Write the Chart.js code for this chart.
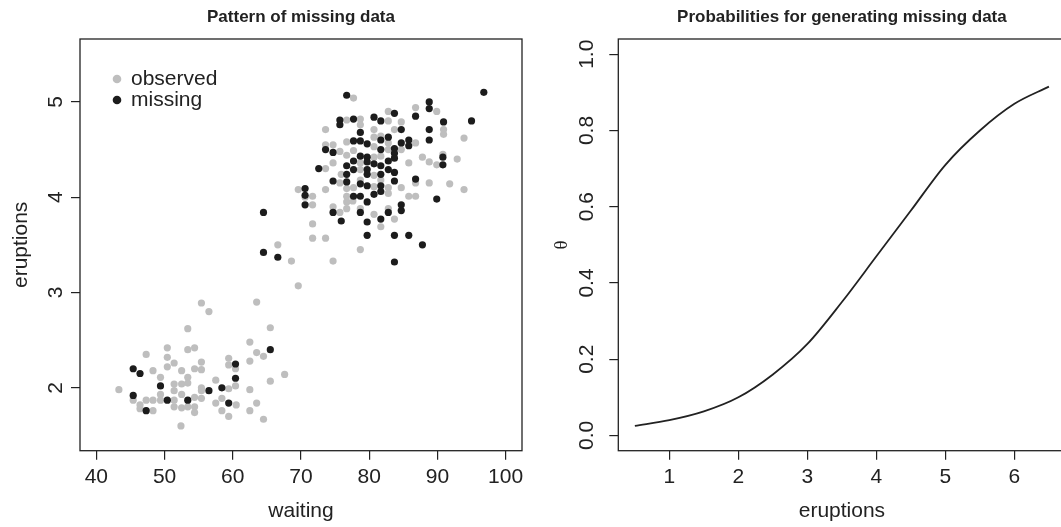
<!DOCTYPE html>
<html>
<head>
<meta charset="utf-8">
<script src="https://cdn.jsdelivr.net/npm/chart.js@4"></script>
<style>
  html, body { margin:0; padding:0; background:#fff; }
  body { width:1061px; height:527px; overflow:hidden; position:relative; }
  canvas { position:absolute; top:0; }
</style>
</head>
<body>
<canvas id="left" width="530" height="527" style="left:0px"></canvas>
<canvas id="right" width="545" height="527" style="left:530px"></canvas>
<script>
// ---------- Data ----------
const observedWaiting = [
  55.4,56.5,63.5,53.4,50.4,53.4,54.4,47.3,50.4,51.4,55.4,50.4,54.4,55.4,52.5,48.3,62.5,63.5,62.5,59.4,
  59.4,60.4,49.4,53.4,51.4,52.5,53.4,57.5,55.4,55.4,59.4,60.4,62.5,43.3,51.4,52.5,49.4,54.4,55.4,51.4,
  48.3,47.3,45.4,46.4,51.4,52.5,54.4,53.4,54.4,46.4,48.3,57.5,58.4,58.4,59.4,60.5,62.5,63.5,52.4,49.4,
  66.6,68.6,69.6,65.5,64.5,67.6,65.5,64.5,
  71.7,75.7,71.7,71.7,73.6,74.7,76.7,76.7,77.6,80.7,83.7,81.7,78.7,69.6,70.6,71.7,73.6,74.7,76.7,75.7,
  73.6,74.7,75.7,73.6,74.7,76.7,73.6,76.7,77.7,78.7,82.8,86.8,89.9,82.8,84.7,78.7,80.7,83.7,90.9,90.9,
  93.9,80.7,81.7,86.8,82.8,80.7,77.7,82.8,84.7,80.7,81.7,78.7,85.8,87.8,88.8,89.9,90.8,92.9,78.7,75.9,
  80.7,81.7,78.7,77.7,80.7,82.8,84.7,86.8,88.8,91.8,93.9,82.8,76.7,85.8,86.8,78.7,82.8,76.7
];
const observedEruptions = [
  2.89,2.80,2.90,2.62,2.42,2.40,2.42,2.35,2.32,2.26,2.27,2.22,2.20,2.19,2.18,2.18,2.48,2.37,2.28,2.31,
  2.24,2.20,2.11,2.11,2.04,2.04,2.05,2.08,2.00,1.97,1.99,2.02,1.98,1.98,1.97,1.93,1.93,1.90,1.89,1.87,
  1.87,1.87,1.87,1.82,1.80,1.79,1.80,1.80,1.74,1.78,1.76,1.84,1.89,1.76,1.70,1.82,1.76,1.84,1.60,1.87,
  3.50,3.33,3.07,2.63,2.33,2.14,2.07,1.67,
  3.92,3.84,3.72,3.57,3.57,3.33,3.95,3.88,3.96,3.82,3.77,3.69,3.45,4.08,4.00,4.01,4.08,3.90,4.09,4.15,
  4.30,4.36,4.48,4.55,4.55,4.58,4.71,4.81,5.04,4.82,4.90,4.94,4.90,4.80,4.79,4.76,4.71,4.71,4.71,4.66,
  4.62,4.63,4.64,4.57,4.57,4.53,4.49,4.50,4.50,4.42,4.43,4.36,4.36,4.42,4.37,4.34,4.45,4.40,4.29,4.24,
  4.23,4.18,4.18,4.10,4.11,4.10,4.10,4.15,4.15,4.14,4.08,4.04,4.01,4.01,4.01,3.88,3.88,4.44
];
const missingWaiting = [
  45.4,46.4,49.4,45.4,47.3,50.4,53.4,56.5,58.4,59.4,60.4,60.4,65.5,64.5,66.6,64.5,
  76.7,96.8,88.8,88.8,83.7,86.8,95.0,90.9,77.7,80.7,81.7,75.7,75.7,78.7,84.7,88.8,88.8,82.8,81.7,77.7,
  78.7,79.7,84.7,85.8,85.8,81.7,83.7,83.7,83.7,78.7,79.7,77.7,76.7,77.7,79.7,80.7,81.7,82.8,90.8,90.8,
  79.7,79.7,81.7,82.8,83.7,76.7,76.7,83.7,78.7,79.7,81.7,81.7,86.8,77.7,78.7,80.7,84.7,84.7,89.9,79.7,
  78.7,82.8,81.7,79.7,75.9,74.7,79.7,83.7,85.8,87.8,83.7,70.6,70.6,70.6,72.6,73.6,74.7,74.7
];
const missingEruptions = [
  2.20,2.15,2.02,1.92,1.76,1.87,1.87,1.97,2.00,1.84,2.25,2.10,2.40,3.42,3.37,3.84,
  5.07,5.10,5.00,4.93,4.88,4.85,4.80,4.79,4.82,4.84,4.80,4.81,4.76,4.68,4.71,4.71,4.60,4.63,4.60,4.59,
  4.59,4.56,4.57,4.60,4.54,4.50,4.51,4.46,4.41,4.43,4.42,4.38,4.33,4.29,4.37,4.35,4.33,4.38,4.42,4.34,
  4.29,4.24,4.24,4.29,4.26,4.24,4.16,4.17,4.14,4.12,4.12,4.06,4.19,4.01,4.01,4.03,3.92,3.86,3.98,3.95,
  3.84,3.84,3.77,3.74,3.75,3.84,3.60,3.60,3.60,3.50,3.32,4.09,4.02,3.92,4.30,4.50,4.47,4.17
];
const curveEruptions = [0.5,1.0,1.5,2.0,2.5,3.0,3.5,4.0,4.5,5.0,5.5,6.0,6.5];
const curveTheta     = [0.025,0.040,0.063,0.100,0.160,0.240,0.350,0.470,0.590,0.710,0.800,0.870,0.915];

const waitingTicks   = [40,50,60,70,80,90,100];
const eruptionsTicks = [2,3,4,5];
const curveXTicks    = [1,2,3,4,5,6];
const thetaTicks     = [0,0.2,0.4,0.6,0.8,1.0];

const leftTitle  = 'Pattern of missing data';
const rightTitle = 'Probabilities for generating missing data';

// ---------- Styling ----------
const INK = '#222';
Chart.defaults.font.family = '"Liberation Sans", Arial, Helvetica, sans-serif';
Chart.defaults.color = INK;
Chart.defaults.animation = false;

const boxPlugin = {
  id: 'box',
  afterDraw(chart) {
    const {ctx, chartArea: a} = chart;
    ctx.save();
    ctx.strokeStyle = INK;
    ctx.lineWidth = 1.3;
    ctx.strokeRect(a.left, a.top, a.right - a.left, a.bottom - a.top);
    ctx.restore();
  }
};

const insetLegend = {
  id: 'insetLegend',
  afterDraw(chart, args, opts) {
    if (!opts || !opts.show) return;
    const {ctx, chartArea: a} = chart;
    ctx.save();
    ctx.font = '21px "Liberation Sans", Arial, sans-serif';
    ctx.textBaseline = 'middle';
    ctx.textAlign = 'left';
    chart.data.datasets.forEach((ds, i) => {
      const cx = a.left + opts.dx, cy = a.top + opts.dy + i * opts.step;
      ctx.beginPath();
      ctx.arc(cx, cy, opts.r, 0, Math.PI * 2);
      ctx.fillStyle = ds.backgroundColor;
      ctx.fill();
      ctx.fillStyle = INK;
      ctx.fillText(ds.label, cx + opts.textGap, cy);
    });
    ctx.restore();
  }
};

function fixedTicks(values) {
  return scale => { scale.ticks = values.map(v => ({value: v})); };
}
const axisGrid = {drawOnChartArea: false, drawTicks: true, tickLength: 9, tickColor: INK, lineWidth: 1.2};

// ---------- Left chart ----------
const pts = (xs, ys) => xs.map((x, i) => ({x, y: ys[i]}));

new Chart(document.getElementById('left'), {
  type: 'scatter',
  data: {
    datasets: [
      {label: 'observed', data: pts(observedWaiting, observedEruptions), backgroundColor: '#bebebe',
       borderWidth: 0, pointRadius: 3.6, order: 2},
      {label: 'missing', data: pts(missingWaiting, missingEruptions), backgroundColor: '#1c1c1c',
       borderWidth: 0, pointRadius: 3.6, order: 1}
    ]
  },
  options: {
    responsive: false,
    events: [],
    layout: {padding: {left: 0, right: 8, top: 0, bottom: 0}},
    plugins: {
      legend: {display: false},
      tooltip: {enabled: false},
      title: {display: true, text: leftTitle, fullSize: false, color: INK,
              font: {size: 17, weight: 'bold'}, padding: {top: 7.5, bottom: 11.1}},
      insetLegend: {show: true, dx: 37, dy: 40, step: 21, r: 4.3, textGap: 14}
    },
    scales: {
      x: {
        type: 'linear', min: 37.6, max: 102.4,
        afterBuildTicks: fixedTicks(waitingTicks),
        afterFit: s => { s.height = 76.3; },
        grid: axisGrid, border: {display: false},
        ticks: {autoSkip: false, maxRotation: 0, padding: 4.8, font: {size: 21}, color: INK},
        title: {display: true, text: 'waiting', font: {size: 21}, color: INK, padding: {top: 0, bottom: 3}}
      },
      y: {
        type: 'linear', min: 1.34, max: 5.66,
        afterBuildTicks: fixedTicks(eruptionsTicks),
        afterFit: s => { s.width = 80; },
        grid: axisGrid, border: {display: false},
        ticks: {autoSkip: false, minRotation: 90, maxRotation: 90, crossAlign: 'center', padding: 8.5,
                font: {size: 21}, color: INK},
        title: {display: true, text: 'eruptions', font: {size: 21}, color: INK, padding: {top: 9, bottom: 0}}
      }
    }
  },
  plugins: [boxPlugin, insetLegend]
});

// ---------- Right chart ----------
new Chart(document.getElementById('right'), {
  type: 'scatter',
  data: {
    datasets: [
      {label: 'theta', data: pts(curveEruptions, curveTheta), showLine: true, borderColor: INK,
       borderWidth: 1.8, pointRadius: 0, cubicInterpolationMode: 'monotone', fill: false}
    ]
  },
  options: {
    responsive: false,
    events: [],
    layout: {padding: {left: 0, right: 9.5, top: 0, bottom: 0}},
    plugins: {
      legend: {display: false},
      tooltip: {enabled: false},
      title: {display: true, text: rightTitle, fullSize: false, color: INK,
              font: {size: 17, weight: 'bold'}, padding: {top: 7.5, bottom: 11.1}}
    },
    scales: {
      x: {
        type: 'linear', min: 0.26, max: 6.74,
        afterBuildTicks: fixedTicks(curveXTicks),
        afterFit: s => { s.height = 76.3; },
        grid: axisGrid, border: {display: false},
        ticks: {autoSkip: false, maxRotation: 0, padding: 4.8, font: {size: 21}, color: INK},
        title: {display: true, text: 'eruptions', font: {size: 21}, color: INK, padding: {top: 0, bottom: 3}}
      },
      y: {
        type: 'linear', min: -0.04, max: 1.04,
        afterBuildTicks: fixedTicks(thetaTicks),
        afterFit: s => { s.width = 88.3; },
        grid: axisGrid, border: {display: false},
        ticks: {autoSkip: false, minRotation: 90, maxRotation: 90, crossAlign: 'center', padding: 7.5,
                font: {size: 21}, color: INK, callback: v => Number(v).toFixed(1)},
        title: {display: true, text: 'θ', font: {size: 19, family: '"Liberation Serif", "DejaVu Serif", serif'},
                color: INK, padding: {top: 21, bottom: 0}}
      }
    }
  },
  plugins: [boxPlugin]
});
</script>
</body>
</html>
